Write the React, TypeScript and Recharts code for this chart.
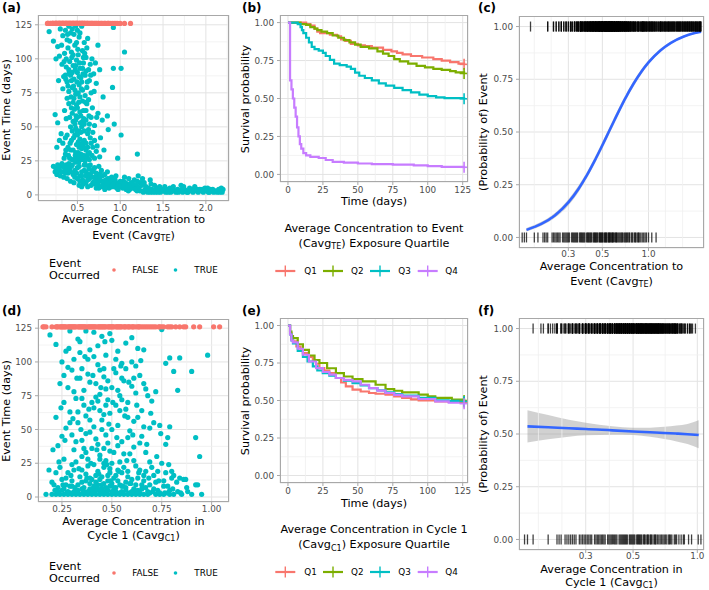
import React from 'react'
import { ScatterChart, Scatter, LineChart, Line, ComposedChart, Area, XAxis, YAxis, CartesianGrid, ReferenceLine } from 'recharts'

const FONT = '"DejaVu Sans", Verdana, sans-serif'
const RED = '#F8766D'
const GREEN = '#7CAE00'
const CYAN = '#00BFC4'
const PURPLE = '#C77CFF'
const BLUE = '#3366FF'
const GRID_MAJOR = '#E3E3E3'
const GRID_MINOR = '#F0F0F0'
const BORDER = '#A8A8A8'
const TICK_TEXT = '#4D4D4D'

// day at which non-events were censored
const censorDay = 126

// (a) Cavg to event vs event time, events (TRUE)
const teEvents: [number, number][] = [
  [0.17, 120], [0.22, 113], [0.27, 109], [0.3, 122], [0.33, 117], [0.36, 121], [0.38, 114], [0.4, 124], [0.42, 119], [0.44, 122],
  [0.46, 118], [0.48, 124], [0.5, 121], [0.52, 116], [0.55, 124], [0.58, 112], [0.62, 115], [0.35, 104], [0.39, 108], [0.43, 105],
  [0.47, 110], [0.51, 103], [0.56, 106], [0.6, 101], [0.67, 100], [0.71, 97], [0.25, 100], [0.29, 102], [0.32, 96], [0.37, 94],
  [0.41, 98], [0.45, 95], [0.49, 99], [0.53, 93], [0.57, 97], [0.63, 92], [0.74, 110], [0.28, 84], [0.34, 87], [0.38, 83],
  [0.42, 88], [0.46, 85], [0.5, 90], [0.54, 86], [0.59, 88], [0.64, 84], [0.69, 89], [0.76, 92], [0.33, 78], [0.4, 76],
  [0.44, 79], [0.48, 74], [0.52, 81], [0.56, 77], [0.61, 79], [0.66, 75], [0.72, 82],
  [0.37, 100], [0.41, 113], [0.45, 103], [0.49, 112], [0.53, 119], [0.57, 101], [0.61, 108], [0.65, 96], [0.36, 88], [0.4, 92],
  [0.44, 90], [0.48, 95], [0.52, 87], [0.56, 93], [0.6, 91], [0.39, 80], [0.43, 84], [0.47, 77], [0.51, 75], [0.55, 83],
  [0.59, 73], [0.63, 70], [0.45, 68], [0.49, 66], [0.57, 62], [0.61, 67], [0.41, 57], [0.45, 54], [0.5, 57], [0.53, 61],
  [0.56, 54], [0.6, 55], [0.64, 52], [0.68, 46], [0.44, 47], [0.48, 49], [0.5, 44], [0.54, 46], [0.58, 47], [0.38, 44],
  [0.42, 33], [0.48, 31], [0.52, 35], [0.56, 38], [0.6, 33], [0.64, 31], [0.67, 29], [0.58, 28], [0.5, 26], [0.54, 30],
  [0.62, 35], [0.66, 38], [0.7, 40], [0.73, 36],
  [0.315, 110], [0.345, 98], [0.365, 85], [0.385, 118], [0.405, 90], [0.425, 72], [0.435, 101], [0.455, 80], [0.465, 63], [0.475, 92],
  [0.485, 58], [0.495, 83], [0.505, 107], [0.515, 68], [0.525, 97], [0.535, 53], [0.545, 78], [0.565, 89], [0.575, 56], [0.585, 104],
  [0.595, 68], [0.615, 83], [0.635, 58], [0.655, 88], [0.675, 64], [0.695, 76], [0.725, 57], [0.345, 27], [0.365, 33], [0.395, 29],
  [0.415, 38], [0.435, 26], [0.455, 42], [0.475, 29], [0.495, 47], [0.515, 24], [0.535, 37], [0.555, 26], [0.575, 35], [0.595, 22],
  [0.615, 28], [0.635, 20], [0.655, 14], [0.685, 18], [0.705, 8], [0.735, 11], [0.765, 15], [0.795, 7], [0.825, 9], [0.855, 12],
  [0.885, 6], [0.915, 10], [0.945, 7], [0.975, 4], [1.035, 10], [1.065, 6], [1.095, 3], [1.135, 5], [1.165, 11], [1.195, 3],
  [1.235, 9],
  [0.24, 59], [0.27, 53], [0.31, 45], [0.35, 62], [0.37, 56], [0.4, 67], [0.42, 50], [0.44, 60], [0.46, 71], [0.48, 55],
  [0.5, 64], [0.52, 47], [0.54, 58], [0.56, 69], [0.58, 52], [0.6, 62], [0.63, 48], [0.66, 57], [0.7, 51], [0.74, 60],
  [0.79, 55], [0.86, 48], [0.33, 38], [0.36, 42], [0.39, 35], [0.43, 40], [0.45, 33], [0.47, 44], [0.49, 37], [0.51, 31],
  [0.53, 41], [0.55, 34], [0.57, 29], [0.6, 38], [0.62, 30], [0.65, 42], [0.68, 35], [0.72, 32], [0.76, 28], [0.81, 33],
  [0.29, 40], [0.26, 35], [0.41, 27], [0.46, 26], [0.54, 27], [0.59, 25], [0.64, 26], [0.7, 27], [0.36, 30], [0.5, 29],
  [0.58, 40], [0.62, 45], [0.47, 52], [0.43, 64], [0.53, 72], [0.38, 71], [0.55, 50], [0.51, 39],
  [0.22, 21], [0.25, 19], [0.27, 22], [0.29, 18], [0.31, 21], [0.33, 17], [0.35, 20], [0.37, 22], [0.39, 16], [0.41, 19],
  [0.43, 21], [0.45, 15], [0.47, 18], [0.5, 20], [0.53, 14], [0.26, 15], [0.3, 14], [0.34, 13], [0.38, 12], [0.42, 10],
  [0.46, 9], [0.32, 23], [0.4, 23], [0.48, 24], [0.36, 16],
  [0.24, 17], [0.28, 20], [0.31, 17], [0.34, 21], [0.36, 18], [0.39, 20], [0.42, 17], [0.44, 22], [0.49, 16], [0.52, 21],
  [0.55, 14], [0.58, 22], [0.6, 17], [0.63, 15], [0.67, 17], [0.71, 13], [0.74, 15], [0.77, 10], [0.79, 14], [0.81, 8],
  [0.83, 11], [0.87, 5], [0.89, 9], [0.91, 11], [0.93, 6], [0.95, 9], [0.97, 7], [0.99, 6], [1.01, 8], [1.03, 5],
  [1.07, 4], [1.09, 8], [1.11, 4], [1.13, 9], [1.16, 5], [1.19, 7], [1.23, 3], [0.52, 7], [0.6, 9], [0.68, 9],
  [0.75, 5], [0.47, 13], [0.56, 11], [0.64, 12],
  [0.5, 12], [0.53, 10], [0.55, 17], [0.57, 8], [0.6, 14], [0.62, 11], [0.64, 19], [0.66, 7], [0.68, 13], [0.7, 10],
  [0.72, 16], [0.74, 8], [0.76, 12], [0.78, 6], [0.8, 10], [0.82, 15], [0.84, 7], [0.86, 9], [0.88, 12], [0.9, 6],
  [0.92, 8], [0.94, 11], [0.96, 5], [0.98, 8], [1.0, 10], [1.02, 6], [1.04, 7], [1.06, 9], [1.08, 5], [1.1, 12],
  [1.12, 6], [1.15, 8], [1.18, 4], [1.2, 10], [1.22, 5], [1.25, 7], [0.65, 22], [0.7, 20], [0.75, 21], [0.58, 18],
  [0.85, 17], [0.95, 14], [0.78, 18], [0.9, 13], [1.05, 13], [0.62, 6], [0.72, 5], [0.82, 4], [0.55, 6],
  [1.27, 2], [1.29, 4], [1.31, 3], [1.33, 5], [1.35, 2], [1.37, 4], [1.39, 3], [1.41, 2], [1.43, 5], [1.45, 3],
  [1.47, 2], [1.49, 4], [1.51, 3], [1.53, 2], [1.55, 4], [1.57, 3], [1.59, 2], [1.61, 5], [1.63, 3], [1.65, 2],
  [1.67, 4], [1.69, 3], [1.71, 7], [1.73, 2], [1.75, 4], [1.77, 3], [1.79, 2], [1.81, 5], [1.83, 3], [1.85, 2],
  [1.87, 6], [1.89, 3], [1.91, 2], [1.93, 4], [1.95, 3], [1.97, 2], [1.99, 5], [2.01, 3], [2.03, 2], [2.05, 4],
  [2.07, 3], [2.09, 2], [2.11, 3], [2.13, 2], [2.15, 4], [2.17, 3], [2.19, 2], [2.2, 4], [1.3, 6], [1.4, 7],
  [1.52, 6], [1.62, 6], [1.28, 9], [1.36, 8], [1.46, 6], [1.58, 5], [1.35, 11], [1.26, 12], [1.21, 14],
  [1.28, 3], [1.32, 2], [1.38, 2], [1.42, 4], [1.48, 3], [1.54, 3], [1.6, 3], [1.66, 3], [1.72, 4], [1.78, 2],
  [1.84, 4], [1.9, 4], [1.96, 4], [2.02, 5], [2.08, 4], [2.14, 3], [2.18, 5], [1.34, 3], [1.44, 2], [1.56, 2],
  [1.68, 2], [1.8, 3], [1.92, 3], [2.04, 2], [2.16, 2], [1.74, 6], [1.86, 4],
  [0.92, 123], [1.05, 105], [0.92, 93], [1.01, 93], [0.91, 79], [0.93, 52], [1.01, 44], [1.2, 30], [0.97, 27], [0.85, 58],
  [0.8, 72], [0.77, 42],
]

// (a) non-events (FALSE), Cavg to event
const teCensored = [
  0.15, 0.155, 0.16, 0.18, 0.19, 0.205, 0.21, 0.215, 0.22, 0.235, 0.24, 0.245, 0.25, 0.255, 0.26, 0.265, 0.275, 0.28, 0.285, 0.29,
  0.295, 0.3, 0.305, 0.315, 0.32, 0.325, 0.33, 0.335, 0.34, 0.345, 0.355, 0.36, 0.365, 0.37, 0.375, 0.38, 0.385, 0.395, 0.4, 0.405,
  0.41, 0.415, 0.42, 0.425, 0.435, 0.44, 0.445, 0.45, 0.455, 0.46, 0.465, 0.475, 0.48, 0.485, 0.49, 0.495, 0.5, 0.505, 0.515, 0.52,
  0.525, 0.53, 0.535, 0.545, 0.55, 0.555, 0.56, 0.565, 0.575, 0.58, 0.585, 0.59, 0.6, 0.61, 0.615, 0.62, 0.63, 0.64, 0.65, 0.66,
  0.67, 0.675, 0.69, 0.7, 0.71, 0.72, 0.73, 0.745, 0.75, 0.77, 0.78, 0.79, 0.81, 0.82, 0.83, 0.85, 0.86, 0.87, 0.89, 0.91,
  0.93, 0.95, 0.97, 1.0, 1.05, 1.12,
]

// (d) Cavg in cycle 1 vs event time, events (TRUE)
const c1Events: [number, number][] = [
  [0.17, 2], [0.2, 2], [0.22, 2], [0.24, 2], [0.26, 2], [0.28, 2], [0.3, 2], [0.32, 2], [0.34, 2], [0.36, 2],
  [0.38, 2], [0.4, 2], [0.42, 2], [0.44, 2], [0.46, 2], [0.48, 2], [0.5, 2], [0.52, 2], [0.54, 2], [0.56, 2],
  [0.58, 2], [0.6, 2], [0.62, 2], [0.64, 2], [0.66, 2], [0.68, 2], [0.72, 2], [0.74, 2], [0.76, 2], [0.79, 2],
  [0.81, 2], [0.9, 2], [0.95, 2],
  [0.185, 20], [0.205, 35], [0.215, 5], [0.235, 26], [0.245, 66], [0.255, 9], [0.265, 42], [0.275, 3], [0.285, 110], [0.295, 16],
  [0.305, 58], [0.315, 7], [0.325, 88], [0.335, 21], [0.345, 50], [0.355, 3], [0.365, 104], [0.375, 14], [0.385, 65], [0.395, 25],
  [0.405, 90], [0.415, 6], [0.425, 35], [0.435, 17], [0.445, 81], [0.455, 4], [0.465, 115], [0.475, 24], [0.485, 54], [0.495, 12],
  [0.505, 70], [0.515, 5], [0.525, 44], [0.535, 19], [0.545, 97], [0.555, 8], [0.565, 60], [0.575, 27], [0.585, 85], [0.595, 10],
  [0.605, 46], [0.615, 3], [0.625, 68], [0.635, 18], [0.645, 101], [0.655, 7], [0.675, 39], [0.685, 14], [0.695, 62], [0.705, 4],
  [0.725, 30], [0.735, 12], [0.745, 47], [0.765, 3], [0.785, 24], [0.805, 6], [0.825, 11], [0.845, 3], [0.875, 7],
  [0.21, 9], [0.2, 11], [0.23, 7], [0.25, 5], [0.27, 14], [0.29, 8], [0.31, 20], [0.33, 5], [0.35, 11], [0.37, 17],
  [0.39, 6], [0.41, 24], [0.43, 9], [0.45, 15], [0.47, 4], [0.49, 21], [0.51, 7], [0.53, 12], [0.55, 18], [0.57, 5],
  [0.59, 10], [0.61, 27], [0.63, 14], [0.65, 6], [0.67, 19], [0.69, 9], [0.71, 16], [0.73, 5], [0.75, 25], [0.78, 8],
  [0.8, 14], [0.83, 4], [0.86, 13], [0.22, 18], [0.24, 22], [0.26, 28], [0.28, 4], [0.3, 12], [0.32, 26], [0.34, 15],
  [0.36, 4], [0.38, 23], [0.4, 13], [0.42, 5], [0.44, 28], [0.46, 10], [0.48, 16], [0.5, 25], [0.52, 4], [0.54, 9],
  [0.56, 22], [0.58, 15], [0.6, 4], [0.62, 9], [0.64, 20], [0.66, 12], [0.68, 4], [0.7, 22], [0.72, 11], [0.77, 18],
  [0.79, 5], [0.81, 16], [0.92, 9], [0.28, 18], [0.35, 30], [0.39, 10], [0.43, 19], [0.47, 27], [0.51, 14], [0.55, 4],
  [0.45, 6], [0.4, 4], [0.33, 9], [0.37, 12], [0.49, 8], [0.57, 11], [0.63, 5], [0.42, 16], [0.48, 12], [0.53, 20],
  [0.46, 22], [0.5, 10], [0.44, 3], [0.41, 8], [0.36, 7], [0.31, 4], [0.27, 9],
  [0.23, 4], [0.26, 6], [0.29, 3], [0.33, 3], [0.35, 6], [0.38, 4], [0.41, 3], [0.43, 6], [0.46, 3], [0.48, 5],
  [0.5, 4], [0.52, 7], [0.54, 3], [0.57, 7], [0.59, 3], [0.61, 6], [0.64, 3], [0.67, 7], [0.69, 3], [0.71, 6],
  [0.74, 3], [0.78, 3], [0.85, 2], [0.88, 4], [0.3, 8], [0.4, 6], [0.45, 9], [0.55, 8], [0.65, 9], [0.47, 7],
  [0.42, 11], [0.39, 14], [0.44, 13], [0.49, 18], [0.52, 16], [0.58, 19], [0.6, 13], [0.35, 20], [0.3, 24], [0.25, 13],
  [0.38, 28], [0.46, 25], [0.54, 26], [0.62, 23], [0.66, 16], [0.69, 26], [0.73, 19], [0.76, 12],
  [0.19, 120], [0.22, 113], [0.25, 100], [0.27, 108], [0.29, 123], [0.31, 102], [0.33, 117], [0.35, 95], [0.37, 123], [0.39, 109],
  [0.41, 122], [0.43, 98], [0.45, 119], [0.47, 105], [0.49, 121], [0.51, 95], [0.53, 108], [0.55, 99], [0.57, 114], [0.6, 100],
  [0.62, 97], [0.66, 109], [0.24, 84], [0.26, 90], [0.28, 81], [0.3, 94], [0.32, 73], [0.34, 88], [0.36, 79], [0.38, 91],
  [0.4, 70], [0.42, 84], [0.44, 76], [0.46, 89], [0.48, 72], [0.5, 81], [0.52, 92], [0.54, 75], [0.56, 86], [0.58, 70],
  [0.6, 82], [0.62, 77], [0.64, 90], [0.66, 84], [0.68, 75], [0.7, 71], [0.72, 78], [0.22, 59], [0.23, 38], [0.25, 45],
  [0.27, 51], [0.29, 63], [0.31, 35], [0.33, 55], [0.35, 42], [0.37, 60], [0.39, 48], [0.41, 66], [0.43, 39], [0.45, 57],
  [0.47, 46], [0.49, 62], [0.51, 33], [0.53, 53], [0.55, 41], [0.57, 65], [0.59, 49], [0.61, 37], [0.63, 59], [0.65, 45],
  [0.67, 33], [0.69, 51], [0.71, 55], [0.74, 53], [0.36, 68], [0.44, 64], [0.52, 68], [0.3, 46], [0.4, 36], [0.48, 40],
  [0.56, 32], [0.64, 40], [0.38, 102], [0.46, 95], [0.5, 116], [0.43, 112], [0.34, 107], [0.55, 88], [0.42, 74], [0.47, 80],
  [0.39, 57], [0.45, 50], [0.49, 34], [0.32, 41], [0.58, 59],
  [0.33, 63], [0.37, 47], [0.41, 52], [0.43, 71], [0.46, 61], [0.5, 50], [0.54, 64], [0.58, 44], [0.61, 56], [0.65, 64],
  [0.35, 73], [0.39, 85], [0.44, 94], [0.48, 86], [0.53, 79], [0.57, 95], [0.61, 88], [0.28, 96], [0.34, 115], [0.41, 104],
  [0.52, 102], [0.6, 118], [0.63, 110], [0.26, 70], [0.29, 55], [0.36, 36], [0.42, 43], [0.46, 36], [0.53, 38], [0.59, 32],
  [0.66, 52], [0.31, 78], [0.47, 68], [0.55, 72], [0.67, 80], [0.44, 31], [0.37, 33],
  [0.75, 124], [0.77, 99], [0.79, 103], [0.81, 93], [0.84, 103], [0.83, 79], [0.9, 93], [0.98, 105], [0.79, 52], [0.78, 44],
  [0.77, 39], [0.92, 44], [0.94, 30], [0.87, 13], [0.84, 14], [0.8, 19], [0.93, 9], [0.76, 8],
]

// (d) non-events (FALSE), Cavg in cycle 1
const c1Censored = [
  0.155, 0.16, 0.17, 0.2, 0.22, 0.225, 0.23, 0.24, 0.245, 0.25, 0.255, 0.26, 0.265, 0.27, 0.28, 0.285, 0.29, 0.295, 0.3, 0.305,
  0.31, 0.315, 0.32, 0.33, 0.335, 0.34, 0.345, 0.35, 0.355, 0.36, 0.365, 0.37, 0.38, 0.385, 0.39, 0.395, 0.4, 0.405, 0.41, 0.415,
  0.42, 0.43, 0.435, 0.44, 0.445, 0.45, 0.455, 0.46, 0.465, 0.47, 0.48, 0.485, 0.49, 0.495, 0.5, 0.505, 0.51, 0.52, 0.525, 0.53,
  0.535, 0.54, 0.545, 0.55, 0.56, 0.565, 0.57, 0.58, 0.585, 0.59, 0.6, 0.605, 0.61, 0.62, 0.63, 0.635, 0.64, 0.65, 0.66, 0.67,
  0.68, 0.69, 0.7, 0.71, 0.72, 0.735, 0.74, 0.75, 0.76, 0.78, 0.79, 0.8, 0.82, 0.84, 0.86, 0.87, 0.91, 0.94, 1.01, 1.04,
]

// (b) Kaplan-Meier by Cavg_TE quartile: [day, survival]
const teQ1: [number, number][] = [
  [0, 1], [13, 0.99], [16, 0.98], [19, 0.96], [21, 0.94], [23, 0.93], [30, 0.92], [35, 0.91], [38, 0.89], [41, 0.88],
  [45, 0.86], [50, 0.85], [55, 0.845], [60, 0.835], [68, 0.82], [74, 0.81], [78, 0.8], [82, 0.79], [88, 0.78], [96, 0.77],
  [104, 0.76], [110, 0.75], [116, 0.74], [122, 0.73], [126, 0.725],
]
const teQ2: [number, number][] = [
  [0, 1], [9, 0.99], [13, 0.985], [16, 0.97], [19, 0.96], [21, 0.95], [24, 0.94], [28, 0.93], [32, 0.915], [36, 0.9],
  [40, 0.885], [44, 0.87], [48, 0.855], [52, 0.84], [58, 0.83], [64, 0.81], [68, 0.795], [72, 0.78], [76, 0.76], [80, 0.745],
  [86, 0.73], [92, 0.715], [98, 0.705], [104, 0.695], [110, 0.688], [116, 0.68], [120, 0.672], [126, 0.665],
]
const teQ3: [number, number][] = [
  [0, 1], [7, 0.99], [9, 0.97], [10, 0.95], [11, 0.93], [13, 0.9], [15, 0.87], [17, 0.84], [19, 0.825], [22, 0.815],
  [25, 0.8], [27, 0.78], [30, 0.755], [33, 0.73], [37, 0.72], [42, 0.71], [45, 0.695], [48, 0.67], [51, 0.65], [55, 0.635],
  [60, 0.62], [65, 0.6], [70, 0.585], [76, 0.57], [82, 0.555], [88, 0.54], [94, 0.525], [100, 0.515], [106, 0.507], [112, 0.502],
  [126, 0.498],
]
const teQ4: [number, number][] = [
  [0, 1], [1.5, 0.62], [2.5, 0.56], [3.5, 0.5], [4.5, 0.44], [5.5, 0.38], [6.5, 0.31], [7.5, 0.25], [8.5, 0.2], [9.5, 0.17],
  [11, 0.14], [13, 0.125], [16, 0.115], [22, 0.108], [27, 0.095], [32, 0.083], [40, 0.078], [50, 0.072], [60, 0.068], [75, 0.064],
  [90, 0.06], [100, 0.055], [110, 0.05], [126, 0.047],
]

// (e) Kaplan-Meier by Cavg_C1 quartile
const c1Q1: [number, number][] = [
  [0, 1], [1.5, 0.95], [2.5, 0.91], [3.6, 0.894], [6, 0.86], [9, 0.83], [10.7, 0.816], [14, 0.79], [17.8, 0.77], [20, 0.745],
  [22.5, 0.716], [26, 0.7], [29.6, 0.683], [34.3, 0.65], [38, 0.62], [41.4, 0.594], [46.2, 0.572], [52, 0.56], [58, 0.55], [62.7, 0.545],
  [69.8, 0.539], [76, 0.528], [81.7, 0.517], [88, 0.508], [93.5, 0.501], [105.4, 0.494], [115, 0.49], [126, 0.488],
]
const c1Q2: [number, number][] = [
  [0, 1], [1.5, 0.96], [2.5, 0.93], [3.6, 0.916], [7, 0.875], [10.7, 0.838], [15, 0.8], [19, 0.77], [22.5, 0.75], [28, 0.715],
  [34.3, 0.683], [40, 0.66], [46.2, 0.643], [53.3, 0.627], [62.7, 0.605], [69.8, 0.576], [76, 0.565], [81.7, 0.554], [93.5, 0.539], [100, 0.528],
  [105.4, 0.517], [117.2, 0.506], [126, 0.5],
]
const c1Q3: [number, number][] = [
  [0, 1], [1.5, 0.94], [2.5, 0.9], [3.6, 0.88], [7, 0.83], [10.7, 0.79], [14, 0.76], [17.8, 0.727], [21, 0.7], [24.9, 0.683],
  [29.6, 0.665], [34.3, 0.65], [40, 0.633], [46.2, 0.616], [52, 0.6], [58, 0.583], [64, 0.568], [69.8, 0.554], [76, 0.543], [81.7, 0.532],
  [93.5, 0.517], [105.4, 0.501], [115, 0.497], [126, 0.494],
]
const c1Q4: [number, number][] = [
  [0, 1], [1.5, 0.94], [2.5, 0.9], [3.6, 0.887], [7, 0.845], [10.7, 0.805], [15, 0.76], [20.1, 0.716], [25, 0.69], [29.6, 0.672],
  [34.3, 0.65], [40, 0.638], [46.2, 0.627], [52, 0.605], [58, 0.583], [64, 0.566], [69.8, 0.55], [76, 0.538], [81.7, 0.528], [93.5, 0.51],
  [105.4, 0.494], [115, 0.485], [126, 0.479],
]

// (c) logistic fit vs Cavg_TE: x, fit, lower, upper
const fitXte = [0.16, 0.2, 0.245, 0.3, 0.35, 0.4, 0.45, 0.5, 0.55, 0.6, 0.7, 0.8, 0.9, 1.0, 1.2, 1.4, 1.7, 2.0, 2.2]
const fitPte = [0.036, 0.064, 0.104, 0.166, 0.231, 0.3, 0.37, 0.437, 0.5, 0.557, 0.655, 0.73, 0.787, 0.83, 0.888, 0.923, 0.953, 0.969, 0.976]
const fitLoTe = [0.028, 0.055, 0.093, 0.152, 0.216, 0.285, 0.355, 0.422, 0.485, 0.542, 0.641, 0.717, 0.775, 0.82, 0.88, 0.917, 0.948, 0.965, 0.972]
const fitHiTe = [0.045, 0.074, 0.116, 0.18, 0.246, 0.315, 0.385, 0.452, 0.515, 0.572, 0.669, 0.743, 0.799, 0.84, 0.896, 0.929, 0.958, 0.973, 0.979]

// (f) logistic fit vs Cavg_C1
const fitXc1 = [0.16, 0.2, 0.25, 0.3, 0.4, 0.5, 0.6, 0.7, 0.8, 0.9, 1.015]
const fitPc1 = [0.536, 0.532, 0.527, 0.524, 0.517, 0.512, 0.508, 0.505, 0.502, 0.499, 0.495]
const fitLoC1 = [0.46, 0.475, 0.487, 0.494, 0.497, 0.495, 0.487, 0.476, 0.465, 0.452, 0.432]
const fitHiC1 = [0.613, 0.59, 0.567, 0.553, 0.537, 0.53, 0.53, 0.534, 0.54, 0.548, 0.565]

const quartiles = ['Q1', 'Q2', 'Q3', 'Q4']
const quartileColors = [RED, GREEN, CYAN, PURPLE]

type Box = { x: number; y: number; w: number; h: number }
const tick = { fontSize: 8.8, fill: TICK_TEXT, fontFamily: FONT }
const XH = 20
const RM = 12

const dot = (fill: string) => (p: any) => <circle cx={p.cx} cy={p.cy} r={2.6} fill={fill} />
const rug = (p: any) => (
  <line x1={p.cx} x2={p.cx} y1={p.cy - 5} y2={p.cy + 5} stroke="#000" strokeOpacity={0.75} strokeWidth={1.3} />
)
const censorMark = (color: string, last: number) => (p: any) =>
  p.index === last ? (
    <g key={`c${p.index}`}>
      <line x1={p.cx - 4.5} x2={p.cx + 4.5} y1={p.cy} y2={p.cy} stroke={color} strokeWidth={1.6} />
      <line x1={p.cx} x2={p.cx} y1={p.cy - 5.5} y2={p.cy + 5.5} stroke={color} strokeWidth={1.6} />
    </g>
  ) : (
    <g key={`c${p.index}`} />
  )

function Txt({ x, y, size = 11.2, bold, anchor = 'middle', rot, color = '#000', children }: any) {
  const tx = anchor === 'middle' ? '-50%' : anchor === 'end' ? '-100%' : '0'
  return (
    <div
      style={{
        position: 'absolute', left: x, top: y, whiteSpace: 'nowrap', lineHeight: 1, fontSize: size,
        fontWeight: bold ? 'bold' : 'normal', color, fontFamily: FONT,
        transform: rot ? 'translate(-50%,-50%) rotate(-90deg)' : `translate(${tx},-50%)`,
      }}
    >
      {children}
    </div>
  )
}

const Sub = ({ children }: any) => (
  <span style={{ fontSize: '0.72em', position: 'relative', top: '0.3em' }}>{children}</span>
)

function Border({ b }: { b: Box }) {
  return (
    <div style={{ position: 'absolute', left: b.x, top: b.y, width: b.w, height: b.h, border: `1px solid ${BORDER}`, boxSizing: 'border-box', pointerEvents: 'none' }} />
  )
}

function ScatterPanel({ b, yw, xDomain, yDomain, xTicks, yTicks, xMinor, yMinor, events, censored, xDigits }: any) {
  const ev = events.map(([x, y]: number[]) => ({ x, y }))
  const ce = censored.map((x: number) => ({ x, y: censorDay }))
  return (
    <div style={{ position: 'absolute', left: b.x - yw, top: b.y }}>
      <ScatterChart width={b.w + yw + RM} height={b.h + XH} margin={{ top: 0, right: RM, bottom: 0, left: 0 }}>
        <CartesianGrid stroke={GRID_MAJOR} />
        {xMinor.map((v: number) => <ReferenceLine key={`mx${v}`} x={v} stroke={GRID_MINOR} strokeWidth={0.8} />)}
        {yMinor.map((v: number) => <ReferenceLine key={`my${v}`} y={v} stroke={GRID_MINOR} strokeWidth={0.8} />)}
        <XAxis type="number" dataKey="x" domain={xDomain} ticks={xTicks} allowDataOverflow axisLine={false}
          tickLine={{ stroke: BORDER }} tickSize={3} tickMargin={1} tick={tick} height={XH}
          tickFormatter={(v: number) => v.toFixed(xDigits)} />
        <YAxis type="number" dataKey="y" domain={yDomain} ticks={yTicks} allowDataOverflow axisLine={false}
          tickLine={{ stroke: BORDER }} tickSize={3} tickMargin={3} tick={tick} width={yw} />
        <Scatter data={ev} fill={CYAN} shape={dot(CYAN)} isAnimationActive={false} />
        <Scatter data={ce} fill={RED} shape={dot(RED)} isAnimationActive={false} />
      </ScatterChart>
    </div>
  )
}

function SurvivalPanel({ b, yw, curves }: any) {
  return (
    <div style={{ position: 'absolute', left: b.x - yw, top: b.y }}>
      <LineChart width={b.w + yw + RM} height={b.h + XH} margin={{ top: 0, right: RM, bottom: 0, left: 0 }}>
        <CartesianGrid stroke={GRID_MAJOR} />
        {[12.5, 37.5, 62.5, 87.5, 112.5].map((v) => <ReferenceLine key={`mx${v}`} x={v} stroke={GRID_MINOR} strokeWidth={0.8} />)}
        {[0.125, 0.375, 0.625, 0.875].map((v) => <ReferenceLine key={`my${v}`} y={v} stroke={GRID_MINOR} strokeWidth={0.8} />)}
        <XAxis type="number" dataKey="t" domain={[-5.7, 128.8]} ticks={[0, 25, 50, 75, 100, 125]} allowDataOverflow
          axisLine={false} tickLine={{ stroke: BORDER }} tickSize={3} tickMargin={2} tick={tick} height={XH} />
        <YAxis type="number" domain={[-0.05, 1.05]} ticks={[0, 0.25, 0.5, 0.75, 1]} allowDataOverflow axisLine={false}
          tickLine={{ stroke: BORDER }} tickSize={3} tickMargin={3} tick={tick} width={yw}
          tickFormatter={(v: number) => v.toFixed(2)} />
        {curves.map((c: [number, number][], i: number) => (
          <Line key={quartiles[i]} data={c.map(([t, s]) => ({ t, s }))} dataKey="s" type="stepAfter"
            stroke={quartileColors[i]} strokeWidth={2.2} dot={censorMark(quartileColors[i], c.length - 1)}
            isAnimationActive={false} />
        ))}
      </LineChart>
    </div>
  )
}

function LogisticPanel({ b, yw, xDomain, xMinor, fx, fp, flo, fhi, events, censored }: any) {
  const data = fx.map((x: number, i: number) => ({ x, p: fp[i], band: [flo[i], fhi[i]] }))
  const top = events.map(([x]: number[]) => ({ x, p: 1 }))
  const bottom = censored.map((x: number) => ({ x, p: 0 }))
  return (
    <div style={{ position: 'absolute', left: b.x - yw, top: b.y }}>
      <ComposedChart width={b.w + yw + RM} height={b.h + XH} data={data} margin={{ top: 0, right: RM, bottom: 0, left: 0 }}>
        <CartesianGrid stroke={GRID_MAJOR} />
        {xMinor.map((v: number) => <ReferenceLine key={`mx${v}`} x={v} stroke={GRID_MINOR} strokeWidth={0.8} />)}
        {[0.125, 0.375, 0.625, 0.875].map((v) => <ReferenceLine key={`my${v}`} y={v} stroke={GRID_MINOR} strokeWidth={0.8} />)}
        <XAxis type="number" dataKey="x" scale="log" domain={xDomain} ticks={[0.3, 0.5, 1]} allowDataOverflow
          axisLine={false} tickLine={{ stroke: BORDER }} tickSize={3} tickMargin={0} tick={tick} height={XH}
          tickFormatter={(v: number) => v.toFixed(1)} />
        <YAxis type="number" dataKey="p" domain={[-0.05, 1.05]} ticks={[0, 0.25, 0.5, 0.75, 1]} allowDataOverflow
          axisLine={false} tickLine={{ stroke: BORDER }} tickSize={3} tickMargin={3} tick={tick} width={yw}
          tickFormatter={(v: number) => v.toFixed(2)} />
        <Scatter data={top} shape={rug} isAnimationActive={false} />
        <Scatter data={bottom} shape={rug} isAnimationActive={false} />
        <Area dataKey="band" type="monotone" stroke="none" fill="#999999" fillOpacity={0.45} isAnimationActive={false} />
        <Line dataKey="p" type="monotone" stroke={BLUE} strokeWidth={2.6} dot={false} isAnimationActive={false} />
      </ComposedChart>
    </div>
  )
}

function EventLegend({ y }: { y: number }) {
  return (
    <>
      <Txt x={49} y={y - 6} anchor="start">Event</Txt>
      <Txt x={49} y={y + 6} anchor="start">Occurred</Txt>
      <svg style={{ position: 'absolute', left: 0, top: y - 5 }} width={200} height={10}>
        <circle cx={114} cy={5} r={1.8} fill={RED} />
        <circle cx={175.5} cy={5} r={1.8} fill={CYAN} />
      </svg>
      <Txt x={132.3} y={y} size={8.8} anchor="start">FALSE</Txt>
      <Txt x={194.3} y={y} size={8.8} anchor="start">TRUE</Txt>
    </>
  )
}

const keyCenters = [285.3, 333, 380, 427.7]
const keyLabels = [304.3, 351, 398.3, 445.3]

function QuartileLegend({ y, line1, line2 }: any) {
  return (
    <>
      <Txt x={374} y={y - 42}>{line1}</Txt>
      <Txt x={374} y={y - 27}>{line2}</Txt>
      <svg style={{ position: 'absolute', left: 236, top: y - 7 }} width={236} height={14}>
        {keyCenters.map((cx, i) => (
          <g key={i} stroke={quartileColors[i]} strokeWidth={2.2}>
            <line x1={cx - 236 - 10} x2={cx - 236 + 10} y1={7} y2={7} />
            <line x1={cx - 236} x2={cx - 236} y1={1.5} y2={12.5} strokeWidth={1.4} />
          </g>
        ))}
      </svg>
      {quartiles.map((q, i) => (
        <Txt key={q} x={keyLabels[i]} y={y} size={8.8} anchor="start">{q}</Txt>
      ))}
    </>
  )
}

const A: Box = { x: 38, y: 15, w: 191, h: 186 }
const B: Box = { x: 280, y: 15, w: 188, h: 167 }
const C: Box = { x: 519, y: 16, w: 185, h: 232 }
const D: Box = { x: 38, y: 319, w: 191, h: 183 }
const E: Box = { x: 280, y: 318, w: 188, h: 165 }
const F: Box = { x: 519, y: 318, w: 185, h: 232 }

export default function App() {
  return (
    <div style={{ position: 'absolute', left: 0, top: 0, width: 709, height: 590, background: '#fff', fontFamily: FONT, overflow: 'hidden' }}>
      <ScatterPanel b={A} yw={38} xDomain={[0.04, 2.27]} yDomain={[-4.5, 132.2]} xTicks={[0.5, 1, 1.5, 2]}
        yTicks={[0, 25, 50, 75, 100, 125]} xMinor={[0.25, 0.75, 1.25, 1.75, 2.25]} yMinor={[12.5, 37.5, 62.5, 87.5, 112.5]}
        events={teEvents} censored={teCensored} xDigits={1} />
      <ScatterPanel b={D} yw={38} xDomain={[0.13, 1.087]} yDomain={[-3.7, 131.8]} xTicks={[0.25, 0.5, 0.75, 1]}
        yTicks={[0, 25, 50, 75, 100, 125]} xMinor={[0.375, 0.625, 0.875]} yMinor={[12.5, 37.5, 62.5, 87.5, 112.5]}
        events={c1Events} censored={c1Censored} xDigits={2} />
      <SurvivalPanel b={B} yw={44} curves={[teQ1, teQ2, teQ3, teQ4]} />
      <SurvivalPanel b={E} yw={44} curves={[c1Q1, c1Q2, c1Q3, c1Q4]} />
      <LogisticPanel b={C} yw={47} xDomain={[0.143, 2.3]} xMinor={[0.18, 0.232, 0.387, 0.707, 1.29, 1.667]}
        fx={fitXte} fp={fitPte} flo={fitLoTe} fhi={fitHiTe} events={teEvents} censored={teCensored} />
      <LogisticPanel b={F} yw={47} xDomain={[0.146, 1.075]} xMinor={[0.18, 0.232, 0.387, 0.707]}
        fx={fitXc1} fp={fitPc1} flo={fitLoC1} fhi={fitHiC1} events={c1Events} censored={c1Censored} />

      {[A, B, C, D, E, F].map((b, i) => <Border key={i} b={b} />)}

      <Txt x={2} y={8} size={12} bold anchor="start">(a)</Txt>
      <Txt x={242} y={8} size={12} bold anchor="start">(b)</Txt>
      <Txt x={478} y={8} size={12} bold anchor="start">(c)</Txt>
      <Txt x={2} y={311} size={12} bold anchor="start">(d)</Txt>
      <Txt x={242} y={311} size={12} bold anchor="start">(e)</Txt>
      <Txt x={478} y={311} size={12} bold anchor="start">(f)</Txt>

      <Txt x={6.5} y={110} rot>Event Time (days)</Txt>
      <Txt x={246} y={98.5} rot>Survival probability</Txt>
      <Txt x={484} y={132} rot>(Probability of) Event</Txt>
      <Txt x={6.5} y={410.5} rot>Event Time (days)</Txt>
      <Txt x={246} y={400.5} rot>Survival probability</Txt>
      <Txt x={484} y={434} rot>(Probability of) Event</Txt>

      <Txt x={133.5} y={220}>Average Concentration to</Txt>
      <Txt x={133.5} y={235.5}>Event (Cavg<Sub>TE</Sub>)</Txt>
      <Txt x={374} y={202}>Time (days)</Txt>
      <Txt x={611.5} y={267}>Average Concentration to</Txt>
      <Txt x={611.5} y={282}>Event (Cavg<Sub>TE</Sub>)</Txt>
      <Txt x={133.5} y={522}>Average Concentration in</Txt>
      <Txt x={133.5} y={536}>Cycle 1 (Cavg<Sub>C1</Sub>)</Txt>
      <Txt x={374} y={504}>Time (days)</Txt>
      <Txt x={611.5} y={570}>Average Concentration in</Txt>
      <Txt x={611.5} y={583}>Cycle 1 (Cavg<Sub>C1</Sub>)</Txt>

      <EventLegend y={270} />
      <EventLegend y={573} />
      <QuartileLegend y={271} line1="Average Concentration to Event" line2={<>(Cavg<Sub>TE</Sub>) Exposure Quartile</>} />
      <QuartileLegend y={572.3} line1="Average Concentration in Cycle 1" line2={<>(Cavg<Sub>C1</Sub>) Exposure Quartile</>} />
    </div>
  )
}
